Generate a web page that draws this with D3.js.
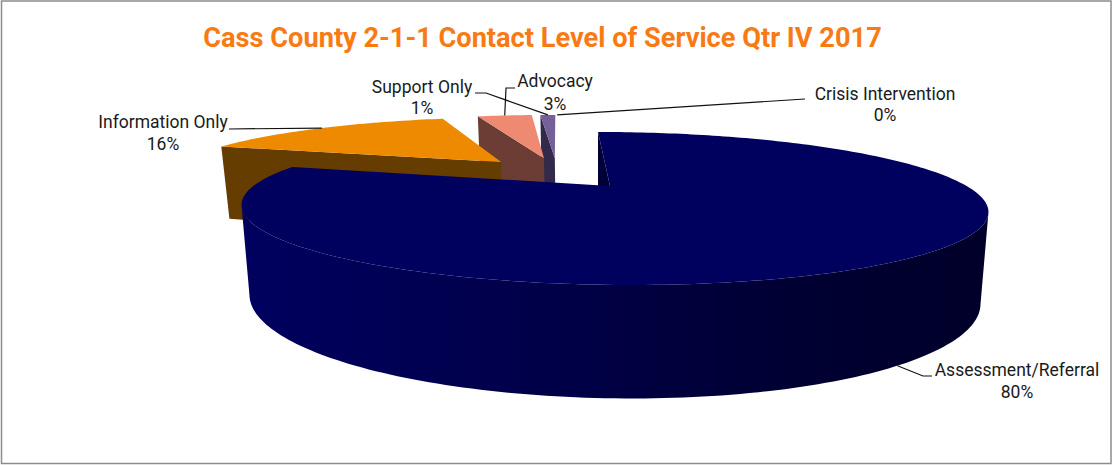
<!DOCTYPE html>
<html>
<head>
<meta charset="utf-8">
<script src="https://cdn.jsdelivr.net/npm/d3@7"></script>
<style>
  html, body { margin: 0; background: #fff; }
  svg { display: block; }
  text { font-family: Roboto, sans-serif; }
</style>
</head>
<body>
<svg id="chart" width="1112" height="465"></svg>
<script>
// Data (labels on the chart are rounded to whole percents)
const categories = ["Assessment/Referral", "Information Only", "Advocacy", "Support Only", "Crisis Intervention"];
const values = [79.8, 15.8, 3.45, 0.95, 0];
const titleText = "Cass County 2-1-1 Contact Level of Service Qtr IV 2017";

// Colours, same order as categories
const topColors = ["#00005f", "#ee8a00", "#ee8a72", "#76609a", "#76609a"];
const wallColors = ["#000038", "#663d00", "#6b3d34", "#332a4a", "#332a4a"];

// Label placement: [centre x, first baseline, second baseline], then the elbow of the leader
const labelPos = [[1017, 376, 398], [163, 128, 150], [555, 87, 110], [422, 93, 114], [885, 100, 121]];
const leaderElbows = [
  [[932, 376], [923, 376]],
  [[229, 129]],
  [[515, 88], [506, 88]],
  [[475, 93], [486, 93]],
  [[805, 99]]
];

// Camera: the pie plane seen in perspective, origin on the big slice's apex
const cam = {x0: 610, y0: 186, ax: 356.6, axBase: 349, skew: -15.5, by: 69.9, byBase: 66, p: 0.294, depth: 84, explode: 0.25};

function project(u, v, base) {
  const w = 1 + cam.p * v;
  return [
    cam.x0 + ((base ? cam.axBase : cam.ax) * u + cam.skew * v) / w,
    cam.y0 + (base ? cam.depth - cam.byBase * v : -cam.by * v) / w
  ];
}

const svg = d3.select("#chart");

// Outer frame
svg.append("rect")
    .attr("x", 1.5).attr("y", 1)
    .attr("width", 1109.5).attr("height", 462.5)
    .attr("fill", "#fff")
    .attr("stroke", "#8c8c8c")
    .attr("stroke-width", 1.5);

// Title
svg.append("text")
    .attr("x", 542.5).attr("y", 47)
    .attr("text-anchor", "middle")
    .attr("font-size", 27.2)
    .attr("font-weight", 700)
    .attr("fill", "#f97a12")
    .text(titleText);

const defs = svg.append("defs");
const wallGrad = defs.append("linearGradient")
    .attr("id", "blue-wall")
    .attr("gradientUnits", "userSpaceOnUse")
    .attr("x1", 245).attr("x2", 985).attr("y1", 0).attr("y2", 0);
wallGrad.append("stop").attr("offset", 0).attr("stop-color", "#00005f");
wallGrad.append("stop").attr("offset", 0.42).attr("stop-color", "#000048");
wallGrad.append("stop").attr("offset", 0.75).attr("stop-color", "#000032");
wallGrad.append("stop").attr("offset", 1).attr("stop-color", "#00002a");

// Slices, clockwise from twelve o'clock
const arcs = d3.pie().sort(null)(values);
const firstDir = [Math.sin((arcs[0].startAngle + arcs[0].endAngle) / 2), Math.cos((arcs[0].startAngle + arcs[0].endAngle) / 2)];

// Each slice is pushed out along its own bisector, relative to the big slice
const apexes = arcs.map(function(d) {
  const mid = (d.startAngle + d.endAngle) / 2;
  return [cam.explode * (Math.sin(mid) - firstDir[0]), cam.explode * (Math.cos(mid) - firstDir[1])];
});

function rimPoint(i, angle, base) {
  return project(apexes[i][0] + Math.sin(angle), apexes[i][1] + Math.cos(angle), base);
}
function apexPoint(i, base) {
  return project(apexes[i][0], apexes[i][1], base);
}
function rimAngles(d) {
  const n = Math.max(2, Math.ceil((d.endAngle - d.startAngle) / 0.02));
  return d3.range(n + 1).map(function(k) { return d.startAngle + (d.endAngle - d.startAngle) * k / n; });
}

const line = d3.line().curve(d3.curveLinearClosed);
const pieGroup = svg.append("g");

// Small slices first, the big one goes on top of them
d3.range(arcs.length - 1, 0, -1).forEach(function(i) {
  const d = arcs[i];
  if (d.endAngle - d.startAngle === 0) return; // zero share, nothing to draw
  pieGroup.append("path")
      .attr("fill", wallColors[i])
      .attr("d", line([rimPoint(i, d.startAngle, false), apexPoint(i, false), apexPoint(i, true), rimPoint(i, d.startAngle, true)]));
  pieGroup.append("path")
      .attr("fill", topColors[i])
      .attr("d", line([apexPoint(i, false)].concat(rimAngles(d).map(function(a) { return rimPoint(i, a, false); }))));
});

// Big slice: cut wall, rounded wall, then the top
const big = arcs[0];
pieGroup.append("path")
    .attr("fill", wallColors[0])
    .attr("d", line([rimPoint(0, big.startAngle, false), apexPoint(0, false), apexPoint(0, true), rimPoint(0, big.startAngle, true)]));

const bigAngles = rimAngles(big);
// Only the part of the rim facing the viewer, between the two widest points
const rimX = bigAngles.map(function(a) { return rimPoint(0, a, false)[0]; });
const frontAngles = bigAngles.slice(d3.maxIndex(rimX), d3.minIndex(rimX) + 1);
pieGroup.append("path")
    .attr("fill", "url(#blue-wall)")
    .attr("d", line(frontAngles.map(function(a) { return rimPoint(0, a, false); })
        .concat(frontAngles.slice().reverse().map(function(a) { return rimPoint(0, a, true); }))));

pieGroup.append("path")
    .attr("fill", topColors[0])
    .attr("d", line([apexPoint(0, false)].concat(bigAngles.map(function(a) { return rimPoint(0, a, false); }))));

// Leader lines end on the middle of each slice's rim
const leaderLine = d3.line();
arcs.forEach(function(d, i) {
  const mid = (d.startAngle + d.endAngle) / 2;
  svg.append("path")
      .attr("fill", "none")
      .attr("stroke", "#111")
      .attr("stroke-width", 1.2)
      .attr("d", leaderLine(leaderElbows[i].concat([rimPoint(i, mid, i === 0)])));
});

// Labels
const pct = d3.format(".0f");
categories.forEach(function(name, i) {
  const t = svg.append("text")
      .attr("text-anchor", "middle")
      .attr("font-size", 17.5)
      .attr("fill", "#1a1a1a");
  t.append("tspan").attr("x", labelPos[i][0]).attr("y", labelPos[i][1]).text(name);
  t.append("tspan").attr("x", labelPos[i][0]).attr("y", labelPos[i][2]).text(pct(values[i]) + "%");
});
</script>
</body>
</html>
